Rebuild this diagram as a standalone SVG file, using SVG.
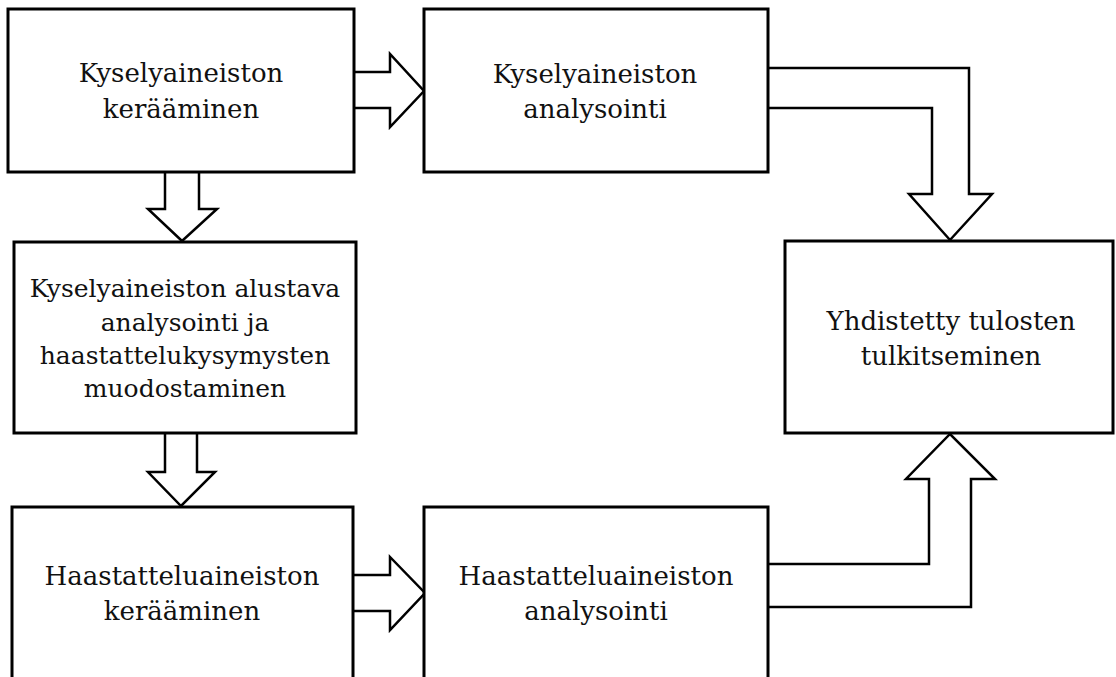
<svg xmlns="http://www.w3.org/2000/svg" width="1116" height="677" viewBox="0 0 1116 677">
  <style>
    .box { fill: #ffffff; stroke: #000000; stroke-width: 3; }
    .arrow { fill: #ffffff; stroke: #000000; stroke-width: 2.5; stroke-linejoin: miter; }
    .label { font-family: "DejaVu Serif", "Liberation Serif", serif; font-size: 26px; fill: #111111; text-anchor: middle; }
    .small { font-size: 25px; }
  </style>
  <rect width="1116" height="677" fill="#ffffff"/>

  <!-- block arrows between the steps (drawn first so box borders sit on top) -->
  <g id="connectors">
    <path class="arrow" d="M350,72 L390,72 L390,54 L424,91 L390,127 L390,108 L350,108"/>
    <path class="arrow" d="M165,168 L165,209 L148,209 L182,241 L217,209 L199,209 L199,168"/>
    <path class="arrow" d="M165,429 L165,472 L148,472 L181,506 L215,472 L197,472 L197,429"/>
    <path class="arrow" d="M349,575 L390,575 L390,557 L425,593 L390,630 L390,611 L349,611"/>
    <path class="arrow" d="M764,68 L969,68 L969,194 L992,194 L950,240 L909,194 L932,194 L932,108 L764,108"/>
    <path class="arrow" d="M764,607 L971,607 L971,479 L995,479 L950,434 L906,479 L929,479 L929,564 L764,564"/>
  </g>

  <!-- process steps -->
  <g id="survey-collection">
    <rect class="box" x="8" y="9" width="346" height="163"/>
    <text class="label" x="181" y="82">Kyselyaineiston</text>
    <text class="label" x="181" y="118">kerääminen</text>
  </g>

  <g id="survey-analysis">
    <rect class="box" x="424" y="9" width="344" height="163"/>
    <text class="label" x="595" y="83">Kyselyaineiston</text>
    <text class="label" x="595" y="118">analysointi</text>
  </g>

  <g id="preliminary-analysis">
    <rect class="box" x="14" y="242" width="342" height="191"/>
    <text class="label small" x="185" y="297">Kyselyaineiston alustava</text>
    <text class="label small" x="185" y="331">analysointi ja</text>
    <text class="label small" x="185" y="364">haastattelukysymysten</text>
    <text class="label small" x="185" y="397">muodostaminen</text>
  </g>

  <g id="combined-interpretation">
    <rect class="box" x="785" y="241" width="328" height="192"/>
    <text class="label" x="951" y="330">Yhdistetty tulosten</text>
    <text class="label" x="951" y="365">tulkitseminen</text>
  </g>

  <g id="interview-collection">
    <rect class="box" x="12" y="507" width="341" height="190"/>
    <text class="label" x="182" y="585">Haastatteluaineiston</text>
    <text class="label" x="182" y="620">kerääminen</text>
  </g>

  <g id="interview-analysis">
    <rect class="box" x="424" y="507" width="344" height="190"/>
    <text class="label" x="596" y="585">Haastatteluaineiston</text>
    <text class="label" x="596" y="620">analysointi</text>
  </g>
</svg>
